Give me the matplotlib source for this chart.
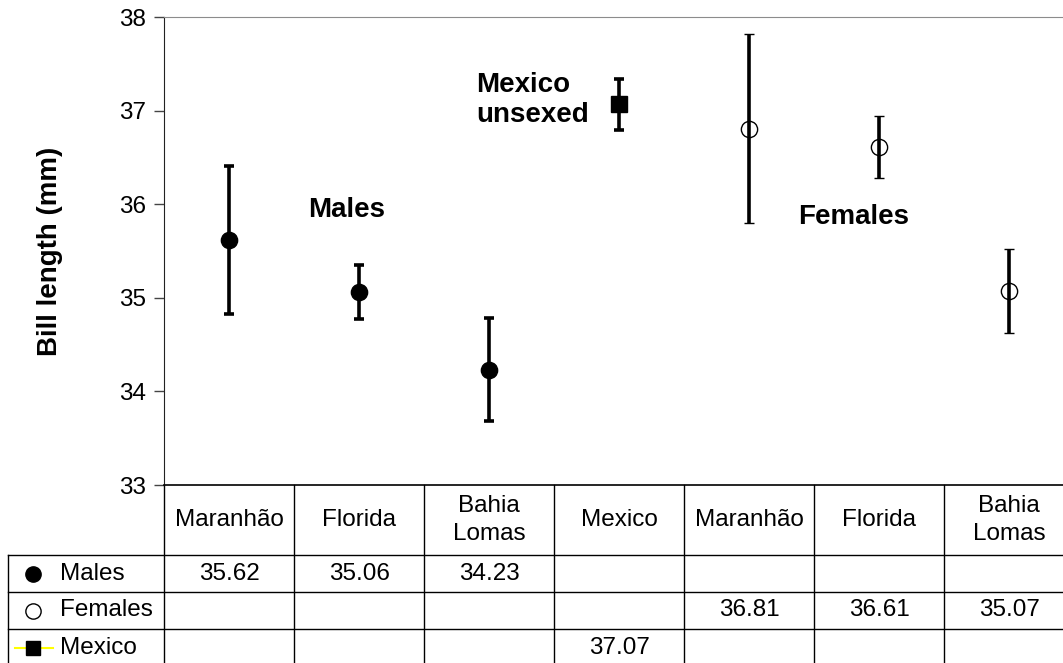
import matplotlib.pyplot as plt
from matplotlib.transforms import blended_transform_factory

plt.rcParams['font.family'] = ['Liberation Sans', 'DejaVu Sans']

# data
sites = ['Maranhão', 'Florida', 'Bahia\nLomas', 'Mexico', 'Maranhão', 'Florida', 'Bahia\nLomas']
males_mean = [35.62, 35.06, 34.23]
males_err = [0.79, 0.29, 0.55]
mexico_mean = [37.07]
mexico_err = [0.27]
females_mean = [36.81, 36.61, 35.07]
females_err = [1.01, 0.33, 0.45]

males_x = [0.5, 1.5, 2.5]
mexico_x = [3.5]
females_x = [4.5, 5.5, 6.5]

W, H = 1063, 663
fig = plt.figure(figsize=(W / 100, H / 100), dpi=100)
ax_left, ax_right, ax_top, ax_bot = 164, 1074, 17.3, 485
ax = fig.add_axes([ax_left / W, 1 - ax_bot / H, (ax_right - ax_left) / W, (ax_bot - ax_top) / H])

ax.errorbar(males_x, males_mean, yerr=males_err, fmt='o', color='black', ms=11.7,
            elinewidth=2.6, capsize=3.8, capthick=2.6, zorder=3)
ax.errorbar(mexico_x, mexico_mean, yerr=mexico_err, fmt='s', color='black', ms=11.5,
            elinewidth=2.6, capsize=3.8, capthick=2.6, zorder=3)
ax.errorbar(females_x, females_mean, yerr=females_err, fmt='o', color='black', ms=11.7,
            mfc='none', mec='black', mew=1.0, elinewidth=2.6, capsize=3.8, capthick=2.6, zorder=3)

ax.set_xlim(0, 7)
ax.set_ylim(33, 38)
ax.set_yticks([33, 34, 35, 36, 37, 38])
ax.set_xticks([])
ax.tick_params(axis='y', labelsize=17.5, length=7, width=1, color='#444444', pad=6)
ax.spines['top'].set_color('#8c8c8c')
ax.spines['right'].set_visible(False)
ax.spines['left'].set_color('#222222')
ax.spines['bottom'].set_color('black')
ax.spines['bottom'].set_linewidth(1.2)

ax.set_ylabel('Bill length (mm)', fontsize=20, fontweight='bold', labelpad=40)

ax.text(1.108, 35.94, 'Males', fontsize=20, fontweight='bold', ha='left', va='center')
ax.text(2.4, 37.12, 'Mexico\nunsexed', fontsize=20, fontweight='bold', ha='left', va='center',
        linespacing=1.2)
ax.text(4.877, 35.86, 'Females', fontsize=20, fontweight='bold', ha='left', va='center')

# data table under the plot
tr = blended_transform_factory(ax.transData, ax.transAxes)
ph = ax_bot - ax_top
header_h = 70 / ph
row_h = 37 / ph
y_head = -header_h
rows_y = [y_head - row_h * i for i in range(4)]
lab_x0 = (8 - ax_left) / 130

lw = 1.0
kw = dict(transform=tr, color='black', lw=lw, clip_on=False)
# vertical lines
for i in range(8):
    ax.plot([i, i], [0, rows_y[-1]], **kw)
ax.plot([lab_x0, lab_x0], [y_head, rows_y[-1]], **kw)
# horizontal lines
for yy in rows_y:
    ax.plot([lab_x0, 7], [yy, yy], **kw)

for i, s in enumerate(sites):
    ax.text(i + 0.5, y_head / 2, s, transform=tr, ha='center', va='center',
            fontsize=17.5, linespacing=1.35, clip_on=False)

row_vals = [
    (males_x, males_mean),
    (females_x, females_mean),
    (mexico_x, mexico_mean),
]
row_names = ['Males', 'Females', 'Mexico']
for r, (xs, vals) in enumerate(row_vals):
    yc = (rows_y[r] + rows_y[r + 1]) / 2
    for xx, v in zip(xs, vals):
        ax.text(xx, yc, f'{v:.2f}', transform=tr, ha='center', va='center',
                fontsize=17.5, clip_on=False)
    ax.text((60 - ax_left) / 130, yc, row_names[r], transform=tr, ha='left', va='center',
            fontsize=17.5, clip_on=False)

mk_x = (33 - ax_left) / 130
yc = [(rows_y[r] + rows_y[r + 1]) / 2 for r in range(3)]
ax.plot([mk_x], [yc[0]], 'o', color='black', ms=11, transform=tr, clip_on=False)
ax.plot([mk_x], [yc[1]], 'o', mfc='none', mec='black', mew=1.0, ms=11, transform=tr, clip_on=False)
ax.plot([(15 - ax_left) / 130, (53 - ax_left) / 130], [yc[2], yc[2]], color='#ffff00', lw=1.5,
        transform=tr, clip_on=False)
ax.plot([mk_x], [yc[2]], 's', color='black', ms=9.5, transform=tr, clip_on=False)

fig.savefig('out.png', dpi=100)
